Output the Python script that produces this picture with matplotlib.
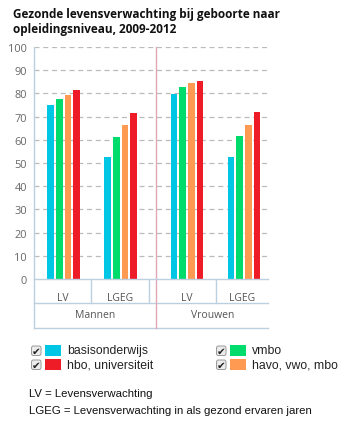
import numpy as np
import matplotlib
matplotlib.use("Agg")
import matplotlib.pyplot as plt
from matplotlib.patches import Rectangle, FancyBboxPatch

# gezonde levensverwachting naar opleidingsniveau, 2009-2012
geslacht = ["Mannen", "Vrouwen"]
maat = ["LV", "LGEG"]
niveaus = ["basisonderwijs", "vmbo", "havo, vwo, mbo", "hbo, universiteit"]
kleuren = ["#00c6e6", "#00dc6c", "#ff9a52", "#ee1c26"]

# waarden per niveau: Mannen LV, Mannen LGEG, Vrouwen LV, Vrouwen LGEG
basis = [75.2, 52.5, 79.6, 52.6]
vmbo = [77.7, 61.0, 82.6, 61.8]
havo = [79.5, 66.3, 84.6, 66.3]
hbo = [81.4, 71.5, 85.5, 71.9]
reeksen = [basis, vmbo, havo, hbo]

W, H = 350, 431
fig = plt.figure(figsize=(W / 100, H / 100), dpi=100)
ax = fig.add_axes([34 / W, (H - 280) / H, (268 - 34) / W, (280 - 48) / H])

lijn = "#bcd0e0"
roze = "#e0a8b4"
grijs = "#666666"

# posities van de categorieen (in celbreedtes)
cel = [(0.0, 1.0), (1.0, 2.02), (2.16, 3.19), (3.19, 4.1)]
midden = np.array([0.52, 1.52, 2.68, 3.68])
stap, breed = 0.152, 0.116
for i, (r, k) in enumerate(zip(reeksen, kleuren)):
    ax.bar(midden + (i - 1.5) * stap, r, width=breed, color=k, zorder=3)

ax.set_xlim(0, 4.1)
ax.set_ylim(0, 100)
ax.set_yticks(range(0, 101, 10))
ax.set_xticks([])
ax.tick_params(axis="y", length=0, pad=5, labelsize=7.9, labelcolor=grijs)
for t in ax.get_yticklabels():
    t.set_family("Open Sans")
for s in ax.spines.values():
    s.set_visible(False)
for y in range(10, 101, 10):
    ax.axhline(y, color="#bbbbbb", lw=0.9, ls=(0, (4, 3)), zorder=1)

# tabel met categorieen onder de as
tr = ax.get_xaxis_transform()
r1, r2 = -0.105, -0.211
ax.plot([0, 4.1], [0, 0], color=lijn, lw=1, transform=tr, clip_on=False, zorder=4)
ax.plot([0, 4.1], [r1, r1], color=lijn, lw=1, transform=tr, clip_on=False)
ax.plot([0, 2.13], [r2, r2], color=lijn, lw=1, transform=tr, clip_on=False)
ax.plot([2.16, 4.1], [r2, r2], color=lijn, lw=1, transform=tr, clip_on=False)
ax.plot([0, 0], [1, r2], color=lijn, lw=1, transform=tr, clip_on=False)
for x in [1.0, 2.02, 3.19]:
    ax.plot([x, x], [0, r1], color=lijn, lw=1, transform=tr, clip_on=False)
ax.plot([2.145, 2.145], [1, r2], color=roze, lw=1, transform=tr, clip_on=False)

for j, (a, b) in enumerate(cel):
    ax.text((a + b) / 2, -0.08, maat[j % 2], transform=tr, ha="center",
            va="center", fontsize=7.5, color="#555555", family="Open Sans")
ax.text(1.07, -0.155, geslacht[0], transform=tr, ha="center", va="center",
        fontsize=7.5, color="#555555", family="Open Sans")
ax.text(3.13, -0.155, geslacht[1], transform=tr, ha="center", va="center",
        fontsize=7.5, color="#555555", family="Open Sans")

fig.text(13 / W, 1 - 22 / H, "Gezonde levensverwachting bij geboorte naar\nopleidingsniveau, 2009-2012",
         ha="left", va="center", fontsize=8.5, fontweight="bold", color="#111111",
         family="Open Sans", linespacing=1.15)

# legenda met vinkjes
plek = [(31, 346), (216, 346), (216, 360), (31, 360)]
for (x, y), naam, k in zip(plek, niveaus, kleuren):
    fig.patches.append(FancyBboxPatch(((x + 0.5) / W, 1 - (y + 10.5) / H), 9.5 / W, 9.5 / H,
                                      boxstyle="round,pad=0,rounding_size=0.005",
                                      transform=fig.transFigure, fc="#ececec",
                                      ec="#999999", lw=0.7))
    fig.text((x + 5.3) / W, 1 - (y + 5.6) / H, "\u2714", ha="center", va="center",
             fontsize=7.5, color="#222222", family="DejaVu Sans")
    fig.patches.append(Rectangle(((x + 14) / W, 1 - (y + 11) / H), 16 / W, 11 / H,
                                 transform=fig.transFigure, fc=k, ec="none"))
    fig.text((x + 36) / W, 1 - (y + 5.5) / H, naam, ha="left", va="center",
             fontsize=8.8, color="#222222", family="Liberation Sans")

fig.text(29 / W, 1 - 394 / H, "LV = Levensverwachting", ha="left", va="center",
         fontsize=8.2, color="#111111", family="Liberation Sans")
fig.text(29 / W, 1 - 411 / H, "LGEG = Levensverwachting in als gezond ervaren jaren",
         ha="left", va="center", fontsize=8.2, color="#111111", family="Liberation Sans")

fig.savefig("out.png", dpi=100)
